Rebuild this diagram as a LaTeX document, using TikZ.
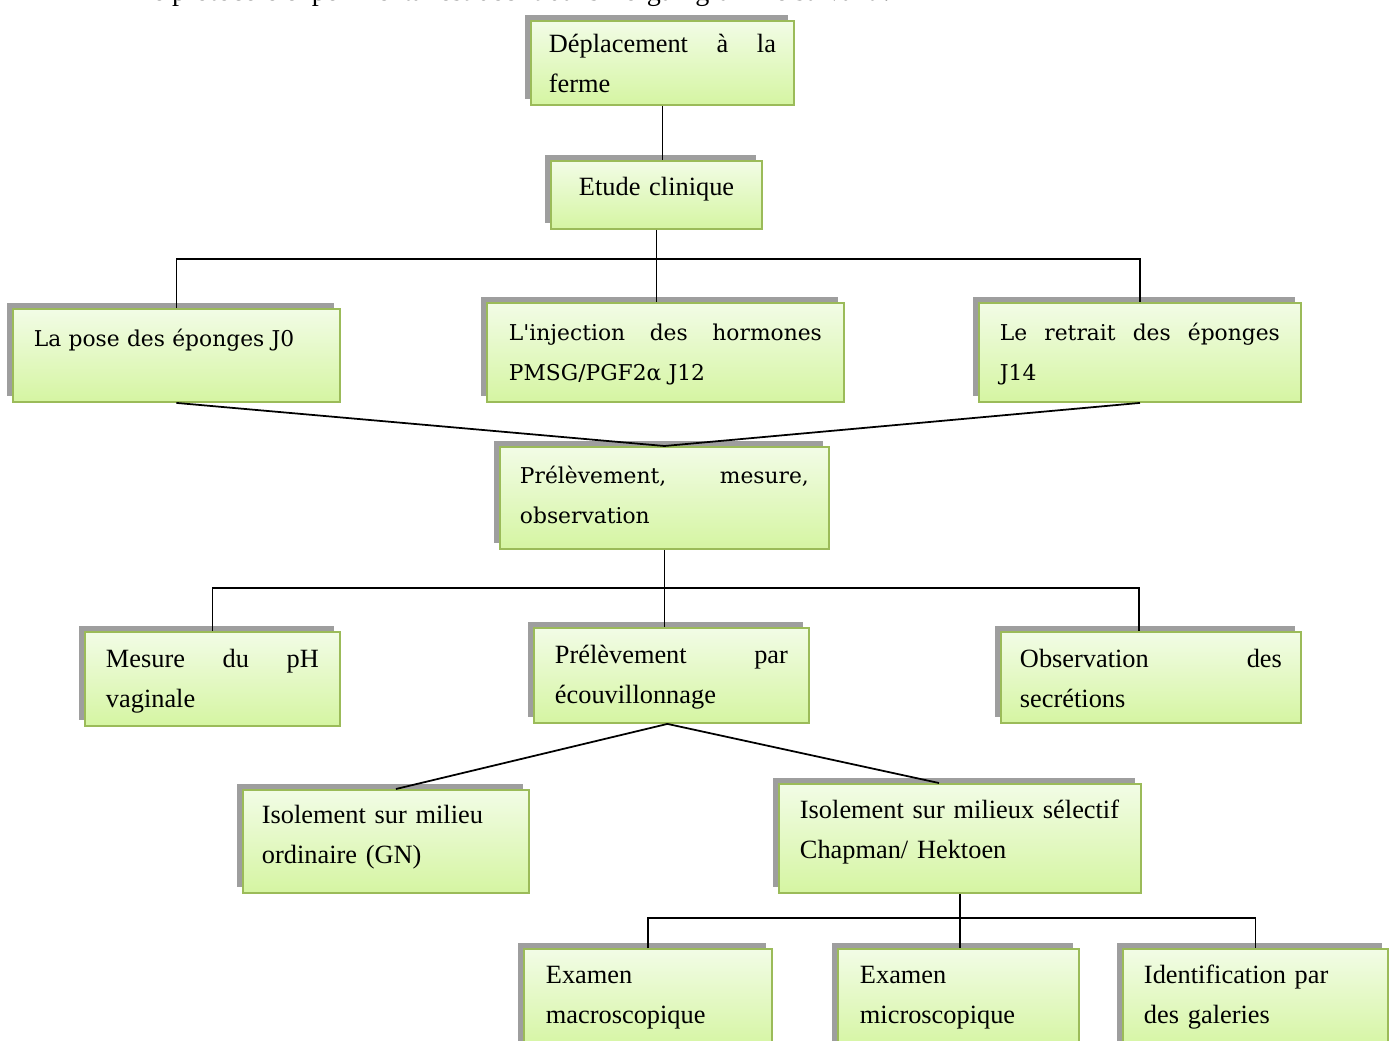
\documentclass[tikz,border=0pt]{standalone}
\usepackage{fontspec}
\setmainfont{Liberation Serif}
\newfontfamily\cambria{DejaVu Serif}
\usetikzlibrary{shadows}
\usetikzlibrary{positioning}
\hyphenpenalty=10000
\exhyphenpenalty=10000

\definecolor{bordvert}{HTML}{9BBB59}
\definecolor{vertclair}{HTML}{F2FCE6}
\definecolor{vertfonce}{HTML}{D5F5A2}

\tikzset{
    etape/.style={rectangle, draw=bordvert, line width=1.1pt,
        top color=vertclair, bottom color=vertfonce,
        anchor=north west, inner ysep=0pt, inner xsep=0.42cm,
        text height=0.7cm, font=\fontsize{15}{22.76}\selectfont,
        general shadow={fill=black!38, shadow xshift=-0.12cm, shadow yshift=0.12cm}},
    cambria/.style={font=\cambria\fontsize{12.4}{22.76}\selectfont},
    lien/.style={draw, line width=1pt}
}

\begin{document}
\begin{tikzpicture}[x=0.02cm, y=-0.02cm]
    \useasboundingbox (0,0) rectangle (1393,1041);

    % phrase du texte, coupee en haut
    \begin{scope}
        \clip (0,0) rectangle (1393,30);
        \node[anchor=base west, inner sep=0pt, font=\fontsize{16}{20}\selectfont] (phrase) at (135,1)
            {Le protocole expérimental est décrit dans l'organigramme suivant :};
    \end{scope}

    % etapes
    \node[etape, text width=4.54cm, inner xsep=0.36cm, text height=0.64cm, text depth=1.04cm] (deplacement) at (530,20)
        {Déplacement \hfill à \hfill la\\ferme};
    \node[etape, text width=3.50cm, inner xsep=0.36cm, text depth=0.66cm] (etude) at (550,160)
        {\hspace*{0.2cm}Etude clinique};

    \node[etape, cambria, text width=5.70cm, text height=0.76cm, text depth=1.10cm] (pose) at (12,308)
        {La pose des éponges J0};
    \node[etape, cambria, text width=6.26cm, inner xsep=0.44cm, text height=0.76cm, text depth=1.22cm] (injection) at (486,302)
        {L'injection \hfill des \hfill hormones\\PMSG/PGF2α J12};
    \node[etape, cambria, text width=5.60cm, text height=0.76cm, text depth=1.22cm] (retrait) at (978,302)
        {Le \hfill retrait \hfill des \hfill éponges\\J14};

    \node[etape, cambria, text width=5.78cm, inner xsep=0.40cm, text height=0.74cm, text depth=1.30cm] (prelevement) at (499,446)
        {Prélèvement, \hfill mesure,\\observation};

    \node[etape, text width=4.26cm, text height=0.72cm, text depth=1.16cm] (mesure) at (84,631)
        {Mesure \hfill du \hfill pH\\vaginale};
    \node[etape, text width=4.66cm, text height=0.72cm, text depth=1.18cm] (ecouvillon) at (533,627)
        {Prélèvement \hfill par\\écouvillonnage};
    \node[etape, text width=5.24cm, inner xsep=0.38cm, text height=0.72cm, text depth=1.10cm] (observation) at (1000,631)
        {Observation \hfill des\\secrétions};

    \node[etape, text width=4.96cm, inner xsep=0.38cm, text height=0.68cm, text depth=1.38cm] (ordinaire) at (242,789)
        {Isolement sur milieu\\ordinaire (GN)};
    \node[etape, text width=6.40cm, text height=0.70cm, text depth=1.48cm] (selectif) at (778,783)
        {Isolement sur milieux sélectif\\Chapman/ Hektoen};

    \node[etape, text width=4.08cm, inner xsep=0.44cm, text depth=1.30cm] (macro) at (523,948)
        {Examen\\macroscopique};
    \node[etape, text width=3.94cm, inner xsep=0.44cm, text depth=1.30cm] (micro) at (837,948)
        {Examen\\microscopique};
    \node[etape, text width=4.46cm, text depth=1.30cm] (galeries) at (1122,948)
        {Identification par\\des galeries};

    % liaisons
    \draw[lien] (deplacement.south) -- (deplacement.south |- etude.north);
    \draw[lien] (etude.south) -- (etude.south |- injection.north);
    \draw[lien] (pose.north) -- ++(0,-49) -| (retrait.north);
    \draw[lien] (pose.south) -- (prelevement.north) -- (retrait.south);

    \draw[lien] (prelevement.south) -- (prelevement.south |- ecouvillon.north);
    \draw[lien] (mesure.north) -- ++(0,-43) -| ([xshift=-0.24cm]observation.north);

    \draw[lien] ([xshift=0.2cm]ordinaire.north) -- ([xshift=-0.08cm]ecouvillon.south) -- ([xshift=-0.42cm]selectif.north);

    \draw[lien] (selectif.south) -- (selectif.south |- micro.north);
    \draw[lien] (macro.north) -- ++(0,-30) -| (galeries.north);
\end{tikzpicture}
\end{document}
